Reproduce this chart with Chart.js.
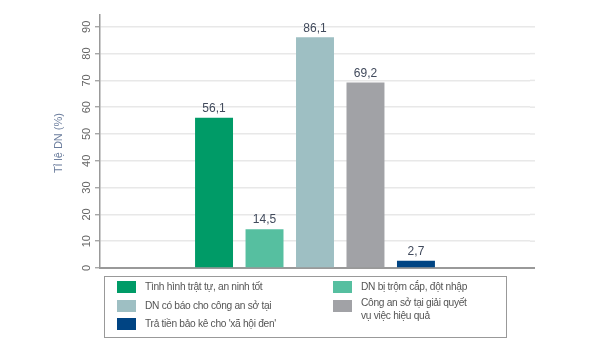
<!DOCTYPE html>
<html><head><meta charset="utf-8">
<script src="https://cdn.jsdelivr.net/npm/chart.js@4"></script>
<style>
html,body{margin:0;padding:0;background:#fff;}
#wrap{position:relative;width:616px;height:353px;}
#legend{position:absolute;left:104px;top:276px;width:401px;height:60px;border:1px solid #999;box-sizing:content-box;font-family:"Liberation Sans",Arial,sans-serif;font-size:10.2px;letter-spacing:-0.3px;color:#555;}
.item{position:absolute;display:flex;align-items:flex-start;}
.sw{width:19px;height:12px;flex:none;}
.tx{white-space:pre-line;line-height:12.5px;margin-left:9px;}
</style></head>
<body><div id="wrap"><canvas id="c" width="616" height="353"></canvas><div id="legend"></div></div>
<script>
const categories = ["Tình hình trật tự, an ninh tốt", "DN bị trộm cắp, đột nhập", "DN có báo cho công an sở tại", "Công an sở tại giải quyết\nvụ việc hiệu quả", "Trả tiền bảo kê cho 'xã hội đen'"];
const values = [56.1, 14.5, 86.1, 69.2, 2.7];
const valueLabels = ["56,1", "14,5", "86,1", "69,2", "2,7"];
const colors = ["#009b67", "#56bfa0", "#9ebfc3", "#a1a2a6", "#004483"];
const yTickValues = [0, 10, 20, 30, 40, 50, 60, 70, 80, 90];
const yTitle = "Tỉ lệ DN (%)";

const FONT = '"Liberation Sans", Arial, sans-serif';
const EXTRA = 5; // axis/grid extension beyond chart area right edge

const datasets = categories.map((name, i) => ({
  label: name,
  data: [values[i]],
  backgroundColor: colors[i],
  barPercentage: 0.752,
  categoryPercentage: 0.587
}));

const drawPlugin = {
  id: 'custom',
  afterDraw(chart) {
    const ctx = chart.ctx;
    const ys = chart.scales.y;
    const a = chart.chartArea;
    ctx.save();
    ctx.strokeStyle = '#e8e8e8'; ctx.lineWidth = 1.5;
    ys.ticks.forEach(t => {
      if (t.value === 0) return;
      const y = ys.getPixelForValue(t.value);
      ctx.beginPath(); ctx.moveTo(a.right, y); ctx.lineTo(a.right + EXTRA, y); ctx.stroke();
    });
    ctx.strokeStyle = '#999'; ctx.lineWidth = 2;
    const y0 = Math.round(chart.scales.x.top);
    ctx.beginPath(); ctx.moveTo(a.right - 2, y0); ctx.lineTo(a.right + EXTRA, y0); ctx.stroke();

    ctx.fillStyle = '#666';
    ctx.font = '11px ' + FONT;
    ctx.textAlign = 'center';
    ctx.textBaseline = 'middle';
    ys.ticks.forEach(t => {
      const y = ys.getPixelForValue(t.value);
      ctx.save();
      ctx.translate(87, y);
      ctx.rotate(-Math.PI / 2);
      ctx.fillText(String(t.value), 0, 0);
      ctx.restore();
    });
    ctx.save();
    ctx.fillStyle = '#6a7c9c';
    ctx.translate(59, 143);
    ctx.rotate(-Math.PI / 2);
    ctx.fillText(yTitle, 0, 0);
    ctx.restore();
    ctx.fillStyle = '#414a5c';
    ctx.font = '12px ' + FONT;
    ctx.textBaseline = 'bottom';
    chart.data.datasets.forEach((ds, i) => {
      const el = chart.getDatasetMeta(i).data[0];
      ctx.fillText(valueLabels[i], el.x, el.y - 3);
    });
    ctx.restore();
  }
};

const chart = new Chart(document.getElementById('c'), {
  type: 'bar',
  data: { labels: [''], datasets },
  options: {
    responsive: false,
    animation: false,
    layout: { padding: { left: 95, top: 15, right: 81 + EXTRA, bottom: 85 } },
    plugins: { legend: { display: false }, tooltip: { enabled: false } },
    scales: {
      x: {
        grid: { display: false, drawTicks: false },
        ticks: { display: false },
        border: { color: '#999', width: 2 }
      },
      y: {
        min: 0, max: 94.4,
        afterBuildTicks(scale) { scale.ticks = yTickValues.map(v => ({ value: v })); },
        ticks: { display: false },
        grid: { color: '#e8e8e8', lineWidth: 1.5, tickColor: '#999', tickLength: 5, tickWidth: 1.2 },
        border: { color: '#999', width: 1.5 }
      }
    }
  },
  plugins: [drawPlugin]
});

const lg = document.getElementById('legend');
const pos = [[12, 4], [228, 4], [12, 23], [228, 23], [12, 41]];
chart.data.datasets.forEach((ds, i) => {
  const d = document.createElement('div');
  d.className = 'item';
  d.style.left = pos[i][0] + 'px';
  d.style.top = pos[i][1] + 'px';
  const sw = document.createElement('div');
  sw.className = 'sw';
  sw.style.background = ds.backgroundColor;
  const tx = document.createElement('div');
  tx.className = 'tx';
  tx.textContent = ds.label;
  tx.style.marginTop = (i === 3 ? -3 : -0.5) + 'px';
  d.appendChild(sw); d.appendChild(tx);
  lg.appendChild(d);
});
</script></body></html>
